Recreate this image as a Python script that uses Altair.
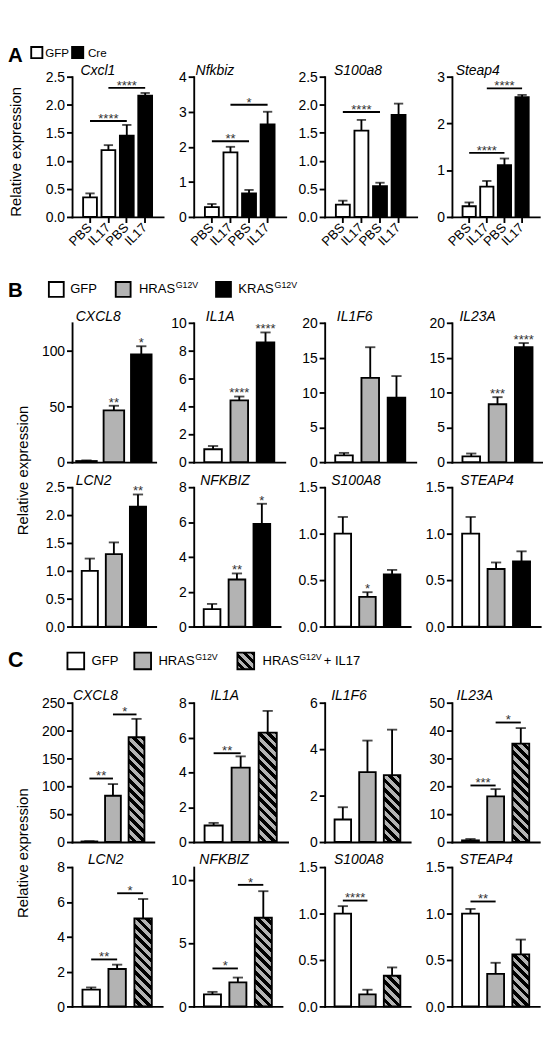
import altair as alt
import pandas as pd

FONT = "Liberation Sans"
GRAY = "#b3b3b3"

# ---------------- Panel A data (mouse; GFP vs Cre, PBS vs IL17) ----------------
A_genes = ["Cxcl1", "Nfkbiz", "S100a8", "Steap4"]
A_groups = ["GFP-PBS", "GFP-IL17", "Cre-PBS", "Cre-IL17"]
A_kinds = ["GFP", "GFP", "Cre", "Cre"]
A_means = [[0.35, 1.19, 1.45, 2.16], [0.28, 1.84, 0.67, 2.64],
           [0.22, 1.54, 0.55, 1.82], [0.23, 0.65, 1.11, 2.56]]
A_errs = [[0.07, 0.09, 0.19, 0.05], [0.09, 0.16, 0.10, 0.36],
          [0.07, 0.19, 0.06, 0.20], [0.08, 0.12, 0.14, 0.05]]
A_max = [2.5, 4, 2.5, 3]
A_ticks = [[0, 0.5, 1, 1.5, 2, 2.5], [0, 1, 2, 3, 4], [0, 0.5, 1, 1.5, 2, 2.5], [0, 1, 2, 3]]
A_fmt = [".1f", "d", ".1f", "d"]
A_sig = [
    [("GFP-PBS", "Cre-PBS", 1.71, "****"), ("GFP-IL17", "Cre-IL17", 2.30, "****")],
    [("GFP-PBS", "Cre-PBS", 2.16, "**"), ("GFP-IL17", "Cre-IL17", 3.2, "*")],
    [("GFP-PBS", "Cre-PBS", 1.87, "****")],
    [("GFP-PBS", "Cre-PBS", 1.37, "****"), ("GFP-IL17", "Cre-IL17", 2.75, "****")],
]

# ---------------- Panel B data (GFP / HRAS G12V / KRAS G12V) ----------------
B_genes = ["CXCL8", "IL1A", "IL1F6", "IL23A", "LCN2", "NFKBIZ", "S100A8", "STEAP4"]
B_groups = ["GFP", "HRAS", "KRAS"]
B_means = [[1.0, 46.4, 96.7], [0.93, 4.43, 8.6], [0.98, 12.1, 9.24], [0.84, 8.31, 16.5],
           [1.0, 1.3, 2.15], [1.0, 2.7, 5.9], [1.0, 0.32, 0.56], [1.0, 0.62, 0.70]]
B_errs = [[0.6, 4.2, 7.3], [0.23, 0.28, 0.71], [0.35, 4.4, 3.12], [0.4, 1.02, 0.6],
          [0.22, 0.21, 0.22], [0.3, 0.35, 1.15], [0.18, 0.05, 0.05], [0.18, 0.07, 0.11]]
B_stars = [["", "**", "*"], ["", "****", "****"], ["", "", ""], ["", "***", "****"],
           ["", "", "**"], ["", "**", "*"], ["", "*", ""], ["", "", ""]]
B_max = [125, 10, 20, 20, 2.5, 8, 1.5, 1.5]
B_ticks = [[0, 50, 100], [0, 2, 4, 6, 8, 10], [0, 5, 10, 15, 20], [0, 5, 10, 15, 20],
           [0, 0.5, 1, 1.5, 2, 2.5], [0, 2, 4, 6, 8], [0, 0.5, 1, 1.5], [0, 0.5, 1, 1.5]]
B_fmt = ["d", "d", "d", "d", ".1f", "d", ".1f", ".1f"]

# ---------------- Panel C data (GFP / HRAS G12V / HRAS G12V + IL17) ----------------
C_genes = ["CXCL8", "IL1A", "IL1F6", "IL23A", "LCN2", "NFKBIZ", "S100A8", "STEAP4"]
C_groups = ["GFP", "HRAS", "HRAS+IL17"]
C_means = [[1.0, 83, 188], [0.95, 4.27, 6.28], [0.97, 3.01, 2.88], [0.6, 16.4, 35.3],
           [0.97, 2.15, 5.05], [0.95, 1.9, 7.0], [1.0, 0.13, 0.33], [1.0, 0.35, 0.56]]
C_errs = [[0.5, 21, 33], [0.15, 0.65, 1.25], [0.53, 1.36, 1.96], [0.5, 2.6, 5.6],
          [0.12, 0.25, 1.12], [0.2, 0.38, 2.1], [0.08, 0.05, 0.09], [0.05, 0.12, 0.16]]
C_sig = [
    [("GFP", "HRAS", 114, "**"), ("HRAS", "HRAS+IL17", 229, "*")],
    [("GFP", "HRAS", 5.1, "**")],
    [],
    [("GFP", "HRAS", 20.3, "***"), ("HRAS", "HRAS+IL17", 42.9, "*")],
    [("GFP", "HRAS", 2.7, "**"), ("HRAS", "HRAS+IL17", 6.5, "*")],
    [("GFP", "HRAS", 3.0, "*"), ("HRAS", "HRAS+IL17", 9.6, "*")],
    [("GFP", "HRAS", 1.14, "****")],
    [("GFP", "HRAS", 1.13, "**")],
]
C_max = [250, 8, 6, 50, 8, 11, 1.5, 1.5]
C_ticks = [[0, 50, 100, 150, 200, 250], [0, 2, 4, 6, 8], [0, 2, 4, 6], [0, 10, 20, 30, 40, 50],
           [0, 2, 4, 6, 8], [0, 5, 10], [0, 0.5, 1, 1.5], [0, 0.5, 1, 1.5]]
C_fmt = ["d", "d", "d", "d", "d", "d", ".1f", ".1f"]

# ---------------- layout / styling ----------------
FILL_DOMAIN = ["GFP", "Cre", "HRAS", "KRAS", "HRAS+IL17"]
FILL_RANGE = ["white", "black", GRAY, "black", GRAY]

A_axes, A_widths, A_tdx = [60, 183, 319, 449], [98, 99, 99, 94], [9, 2, 10, 4]
B1_axes, B1_widths, B1_tdx = [67, 184, 319, 450], [90, 98, 98, 98], [4, 13, 13, 8]
B2_axes, B2_widths, B2_tdx = [67, 190, 323, 453], [90, 93, 92, 95], [4, 7, 7, 9]
C1_axes, C1_widths, C1_tdx = [77, 185, 323, 453], [88, 101, 92, 94], [1, 18, 7, 5]
C2_axes, C2_widths, C2_tdx = [68, 193, 323, 453], [97, 95, 92, 94], [17, 6, 10, 8]

DUMMY = pd.DataFrame({"z": [0]})


def hatch_fill(W, H, period=10.0, dark=5.0):
    S = W + H
    k = S / (W * W + H * H)
    stops = []
    s0 = 0.0
    while s0 < S - 1e-9:
        a = s0 / S
        b = min((s0 + period - dark) / S, 1.0)
        c = min((s0 + period) / S, 1.0)
        stops += [(a, GRAY), (b, GRAY), (b, "#000000"), (c, "#000000")]
        s0 += period
    return alt.LinearGradient(
        gradient="linear", x1=0, y1=1, x2=round(k * W, 5), y2=round(1 - k * H, 5),
        stops=[alt.GradientStop(offset=round(o, 5), color=col) for o, col in stops])


def make_panel(gene, groups, kinds, means, errs, dmax, ticks, fmt,
               width, height, title_dx, title_dy, stars=None, sigs=(), hatch_kind=None,
               xlabels=False, pi=0.33, po=0.4, cap=11):
    n = len(groups)
    step = width / (n - pi + 2 * po)
    bw = step * (1 - pi)
    df = pd.DataFrame({"g": groups, "kind": kinds, "mean": means,
                       "top": [m + e for m, e in zip(means, errs)],
                       "star": stars if stars else [""] * n})
    xscale = alt.Scale(domain=groups, paddingInner=pi, paddingOuter=po)
    yscale = alt.Scale(domain=[0, dmax], nice=False, zero=True)
    if xlabels:
        xaxis = alt.Axis(title=None, labels=True, ticks=True, tickSize=6, labelAngle=-45,
                         labelAlign="right", labelBaseline="middle", labelPadding=3,
                         labelFontSize=14, labelOverlap=False,
                         labelExpr="split(datum.value, '-')[1]")
    else:
        xaxis = alt.Axis(title=None, labels=False, ticks=False)
    yaxis = alt.Axis(title=None, values=ticks, format=fmt, tickSize=6, labelFontSize=15,
                     labelPadding=2, labelOverlap=False)

    def X(f):
        return alt.X(f, type="nominal", scale=xscale, axis=xaxis, title=None)

    def Y(f):
        return alt.Y(f, type="quantitative", scale=yscale, axis=yaxis, title=None)

    base = alt.Chart(df)
    plain = base.transform_filter(alt.datum.kind != hatch_kind) if hatch_kind else base
    layers = [plain.mark_bar(stroke="black", strokeWidth=2).encode(
        x=X("g"), y=Y("mean"),
        fill=alt.Fill("kind:N", scale=alt.Scale(domain=FILL_DOMAIN, range=FILL_RANGE), legend=None))]
    if hatch_kind:
        i = kinds.index(hatch_kind)
        H = means[i] / dmax * height
        layers.append(base.transform_filter(alt.datum.kind == hatch_kind).mark_bar(
            fill=hatch_fill(bw, H), stroke="black", strokeWidth=2).encode(x=X("g"), y=Y("mean")))
    layers.append(base.mark_rule(strokeWidth=2, color="black").encode(
        x=X("g"), y=Y("mean"), y2=alt.Y2("top")))
    layers.append(base.mark_tick(thickness=2, size=cap, color="black").encode(x=X("g"), y=Y("top")))
    if stars and any(stars):
        layers.append(base.transform_filter(alt.datum.star != "").mark_text(
            dy=1, baseline="alphabetic", fontSize=14, color="#333333").encode(
            x=X("g"), y=Y("top"), text="star:N"))
    for g1, g2, yv, lab in sigs:
        sdf = pd.DataFrame({"g1": [g1], "g2": [g2], "y": [yv], "lab": [lab]})
        sc = alt.Chart(sdf)
        layers.append(sc.mark_rule(strokeWidth=2, color="black").encode(
            x=X("g1"), x2=alt.X2("g2"), y=Y("y")))
        span = groups.index(g2) - groups.index(g1)
        layers.append(sc.mark_text(dx=span * step / 2, dy=2, baseline="alphabetic",
                                   fontSize=14, color="#333333").encode(
            x=X("g1"), y=Y("y"), text="lab:N"))
    layers.append(alt.Chart(pd.DataFrame({"t": [gene]})).mark_text(
        align="left", baseline="alphabetic", fontStyle="italic", fontSize=15, color="black").encode(
        x=alt.value(title_dx), y=alt.value(title_dy), text="t:N"))
    return alt.layer(*layers).properties(width=width, height=height)


def blank(w, h, extra=()):
    pt = alt.Chart(DUMMY).mark_point(opacity=0, size=1).encode(
        x=alt.value(w / 2), y=alt.value(h / 2))
    if extra:
        return alt.layer(pt, *extra).properties(width=w, height=h)
    return pt.properties(width=w, height=h)


def note(text, x, y, size=14, weight="normal", align="left", baseline="middle", angle=0):
    return alt.Chart(DUMMY).mark_text(
        text=text, fontSize=size, fontWeight=weight, align=align, baseline=baseline,
        angle=angle, color="black", font=FONT).encode(x=alt.value(x), y=alt.value(y))


def swatch(x1, y1, s, fill):
    return alt.Chart(DUMMY).mark_rect(fill=fill, stroke="black", strokeWidth=2).encode(
        x=alt.value(x1), x2=alt.value(x1 + s), y=alt.value(y1), y2=alt.value(y1 + s))


NC = 8


def panel_row(axes, widths, height, charts, left_extra=()):
    items = []
    prev_end = 8
    for j, (ax, w, ch) in enumerate(zip(axes, widths, charts)):
        items.append(blank(ax - prev_end, height, left_extra if j == 0 else ()))
        items.append(ch)
        prev_end = ax + w
    return items


def filler_row(height, extra=()):
    return [blank(10, height, extra)] + [blank(1, height) for _ in range(NC - 1)]


# ---------- build panels ----------
A_charts = [make_panel(A_genes[i], A_groups, A_kinds,
                       A_means[i], A_errs[i], A_max[i], A_ticks[i], A_fmt[i],
                       A_widths[i], 151, A_tdx[i], -2, sigs=A_sig[i],
                       xlabels=True, pi=0.25, po=0.6, cap=10) for i in range(4)]

B1_charts, B2_charts = [], []
for i in range(8):
    row, c = i // 4, i % 4
    widths = B1_widths if row == 0 else B2_widths
    tdx = B1_tdx if row == 0 else B2_tdx
    extra = dict(pi=0.25, po=0.15) if i == 0 else {}
    ch = make_panel(B_genes[i], B_groups, B_groups,
                    B_means[i], B_errs[i], B_max[i], B_ticks[i], B_fmt[i],
                    widths[c], 150, tdx[c], -2, stars=B_stars[i], **extra)
    (B1_charts if row == 0 else B2_charts).append(ch)

C1_charts, C2_charts = [], []
for i in range(8):
    row, c = i // 4, i % 4
    widths = C1_widths if row == 0 else C2_widths
    tdx = C1_tdx if row == 0 else C2_tdx
    ch = make_panel(C_genes[i], C_groups, C_groups,
                    C_means[i], C_errs[i], C_max[i], C_ticks[i], C_fmt[i],
                    widths[c], 150, tdx[c], -3, sigs=C_sig[i], hatch_kind="HRAS+IL17")
    (C1_charts if row == 0 else C2_charts).append(ch)

# ---------- headers / legends ----------
headA = [note("A", 0, 0, size=22, weight="bold", baseline="top"),
         swatch(25, 1, 12, "white"), note("GFP", 40, 8, size=12.5),
         swatch(69, 1, 12, "black"), note("Cre", 86, 8, size=12.5)]

headB = [note("B", 0, 69, size=22, weight="bold", baseline="top"),
         swatch(44, 70, 16, "white"), note("GFP", 67, 78),
         swatch(116, 70, 16, GRAY), note("HRAS", 141, 78), note("G12V", 180.5, 74, size=9.5),
         swatch(224, 70, 16, "black"), note("KRAS", 248, 78), note("G12V", 287, 74, size=9.5)]

headC = [note("C", 0, 25, size=23, weight="bold", baseline="top"),
         swatch(64, 28, 18, "white"), note("GFP", 90, 37),
         swatch(136, 28, 18, GRAY), note("HRAS", 162, 37), note("G12V", 201.5, 33, size=9.5),
         alt.Chart(DUMMY).mark_rect(fill=hatch_fill(18, 18, period=9, dark=4.5),
                                    stroke="black", strokeWidth=2).encode(
             x=alt.value(247), x2=alt.value(265), y=alt.value(28), y2=alt.value(46)),
         note("HRAS", 274, 37), note("G12V", 313.5, 33, size=9.5), note("+ IL17", 340, 37)]

ytitle = "Relative expression"

items = []
items += filler_row(33, headA)
items += panel_row(A_axes, A_widths, 151, A_charts,
                   [note(ytitle, 9, 81, size=16, align="center", angle=270)])
items += filler_row(114, headB)
items += panel_row(B1_axes, B1_widths, 150, B1_charts,
                   [note(ytitle, 17, 159, size=16, align="center", angle=270)])
items += filler_row(27)
items += panel_row(B2_axes, B2_widths, 150, B2_charts)
items += filler_row(82, headC)
items += panel_row(C1_axes, C1_widths, 150, C1_charts,
                   [note(ytitle, 17, 162, size=16, align="center", angle=270)])
items += filler_row(27)
items += panel_row(C2_axes, C2_widths, 150, C2_charts)

chart = alt.concat(*items, columns=NC, spacing=0, align="none", bounds="flush").properties(
    padding=0
).configure(font=FONT).configure_view(stroke=None).configure_axis(
    domainColor="black", domainWidth=2, tickColor="black", tickWidth=2,
    labelColor="black", labelFont=FONT, grid=False, domainCap="square")

chart.save("out.html", embed_options={"renderer": "svg", "actions": False})
